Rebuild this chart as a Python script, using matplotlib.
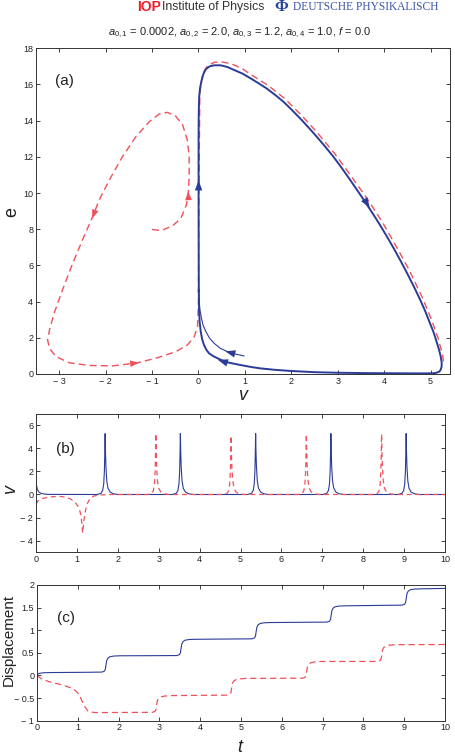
import matplotlib
matplotlib.use("Agg")
import matplotlib.pyplot as plt

plt.rcParams['font.family'] = ['Liberation Sans', 'DejaVu Sans']
plt.rcParams['mathtext.fontset'] = 'custom'
plt.rcParams['mathtext.rm'] = 'Liberation Sans'
plt.rcParams['mathtext.it'] = 'Liberation Sans:italic'

BLUE = '#2b3c98'
RED = '#f0505a'

# ---------------- panel (a): phase portrait (v, e) ----------------
blue_init_v = [0.98, 0.8, 0.63, 0.47, 0.34, 0.24, 0.16, 0.1, 0.065, 0.035, 0.015, 0.008]
blue_init_e = [1.0, 1.1, 1.23, 1.42, 1.69, 1.98, 2.34, 2.7, 3.08, 3.5, 4.0, 4.6]

blue_cycle_v = [0.008, 0.005, 0.003, 0.003, 0.006, 0.015, 0.035, 0.065, 0.11, 0.16, 0.24, 0.34,
                0.48, 0.62, 0.77, 0.95, 1.13, 1.3, 1.47, 1.65, 1.83, 2.01, 2.19, 2.37, 2.55,
                2.73, 2.91, 3.09, 3.27, 3.45, 3.63, 3.78, 3.92, 4.06, 4.2, 4.35, 4.49, 4.64,
                4.78, 4.89, 4.99, 5.07, 5.13, 5.18, 5.22, 5.24, 5.24, 5.22, 5.19, 5.13, 5.06,
                4.9, 4.6, 4.2, 3.6, 2.99, 2.5, 1.98, 1.65, 1.34, 1.15, 0.98, 0.8, 0.63,
                0.52, 0.41, 0.31, 0.23, 0.17, 0.12, 0.08, 0.05, 0.025, 0.012, 0.008]
blue_cycle_e = [4.6, 7.0, 10.0, 13.0, 14.3, 15.3, 15.8, 16.2, 16.6, 16.85, 17.0, 17.06,
                17.06, 16.97, 16.8, 16.6, 16.33, 16.06, 15.78, 15.43, 15.05, 14.6, 14.13, 13.63,
                13.11, 12.57, 12.0, 11.38, 10.72, 10.05, 9.36, 8.77, 8.2, 7.6, 6.98, 6.28,
                5.6, 4.84, 4.09, 3.45, 2.8, 2.28, 1.79, 1.38, 0.96, 0.66, 0.41, 0.24, 0.13,
                0.07, 0.04, 0.035, 0.035, 0.04, 0.05, 0.07, 0.1, 0.17, 0.23, 0.31, 0.38, 0.46,
                0.55, 0.64, 0.74, 0.87, 1.0, 1.14, 1.34, 1.6, 1.92, 2.34, 2.9, 3.63, 4.6]

red_v = [-1.0, -0.81, -0.56, -0.38, -0.26, -0.22, -0.2, -0.2, -0.24, -0.34, -0.49, -0.67,
         -0.85, -1.06, -1.35, -1.64, -1.92, -2.14, -2.28, -2.5, -2.71, -2.93, -3.11, -3.21,
         -3.25, -3.21, -3.07, -2.78, -2.35, -1.85, -1.35, -0.92, -0.49, -0.24, -0.09, -0.02,
         0.0, 0.01, 0.03, 0.09, 0.2, 0.34, 0.5, 0.7, 0.93, 1.16, 1.5, 1.86, 2.22, 2.58,
         2.94, 3.3, 3.66, 3.96, 4.24, 4.53, 4.82, 5.03, 5.17, 5.26, 5.29]
red_e = [7.99, 7.92, 8.18, 8.6, 9.34, 9.98, 10.9, 12.0, 12.93, 13.76, 14.25, 14.46,
         14.36, 13.94, 13.11, 12.0, 10.72, 9.61, 8.69, 7.4, 6.11, 4.64, 3.35, 2.43,
         1.88, 1.42, 0.96, 0.62, 0.47, 0.45, 0.6, 0.87, 1.23, 1.6, 2.06, 2.62,
         4.0, 10.0, 15.5, 16.6, 17.05, 17.22, 17.25, 17.15, 16.9, 16.5, 15.95, 15.22, 14.3, 13.28,
         12.17, 10.9, 9.6, 8.4, 7.15, 5.8, 4.25, 2.95, 1.93, 1.05, 0.5]

# arrows: (from_v, from_e, to_v, to_e)
blue_arrows = [(0.003, 10.1, 0.003, 10.7), (3.6, 9.55, 3.69, 9.2),
               (0.7, 1.17, 0.58, 1.25), (0.52, 0.7, 0.42, 0.78)]
red_arrows = [(-0.215, 9.6, -0.22, 10.1), (-2.23, 9.0, -2.29, 8.6),
              (-1.5, 0.56, -1.28, 0.62)]

# ---------------- panel (b): v(t) ----------------
blue_t = [0, 0.03, 0.06, 0.11, 0.18, 0.3,
          1.49, 1.59, 1.63, 1.655, 1.672, 1.683, 1.69, 1.698, 1.71, 1.73, 1.76, 1.81, 1.89, 2.01,
          3.33, 3.43, 3.47, 3.495, 3.512, 3.523, 3.53, 3.538, 3.55, 3.57, 3.60, 3.65, 3.73, 3.85,
          5.17, 5.27, 5.31, 5.335, 5.352, 5.363, 5.37, 5.378, 5.39, 5.41, 5.44, 5.49, 5.57, 5.69,
          7.01, 7.11, 7.15, 7.175, 7.192, 7.203, 7.21, 7.218, 7.23, 7.25, 7.28, 7.33, 7.41, 7.53,
          8.85, 8.95, 8.99, 9.015, 9.032, 9.043, 9.05, 9.058, 9.07, 9.09, 9.12, 9.17, 9.25, 9.37,
          10.0]
blue_vt = [1.07, 0.48, 0.25, 0.12, 0.05, 0.01,
           0.0, 0.1, 0.35, 0.9, 2.0, 3.8, 5.3, 3.8, 2.4, 1.2, 0.55, 0.22, 0.06, 0.0,
           0.0, 0.1, 0.35, 0.9, 2.0, 3.8, 5.3, 3.8, 2.4, 1.2, 0.55, 0.22, 0.06, 0.0,
           0.0, 0.1, 0.35, 0.9, 2.0, 3.8, 5.3, 3.8, 2.4, 1.2, 0.55, 0.22, 0.06, 0.0,
           0.0, 0.1, 0.35, 0.9, 2.0, 3.8, 5.3, 3.8, 2.4, 1.2, 0.55, 0.22, 0.06, 0.0,
           0.0, 0.1, 0.35, 0.9, 2.0, 3.8, 5.3, 3.8, 2.4, 1.2, 0.55, 0.22, 0.06, 0.0,
           0.0]

red_t = [0, 0.05, 0.12, 0.32, 0.5, 0.61, 0.75, 0.85, 0.95, 1.02, 1.07, 1.10, 1.125, 1.14,
         1.17, 1.21, 1.26, 1.32, 1.40, 1.55, 1.8,
         2.73, 2.83, 2.87, 2.895, 2.912, 2.923, 2.93, 2.938, 2.95, 2.97, 3.00, 3.05, 3.13, 3.25,
         4.57, 4.67, 4.71, 4.735, 4.752, 4.763, 4.77, 4.778, 4.79, 4.81, 4.84, 4.89, 4.97, 5.09,
         6.41, 6.51, 6.55, 6.575, 6.592, 6.603, 6.61, 6.618, 6.63, 6.65, 6.68, 6.73, 6.81, 6.93,
         8.25, 8.35, 8.39, 8.415, 8.432, 8.443, 8.45, 8.458, 8.47, 8.49, 8.52, 8.57, 8.65, 8.77,
         10.0]
red_vt = [-0.84, -0.55, -0.38, -0.22, -0.17, -0.17, -0.25, -0.40, -0.65, -0.99, -1.4, -1.87,
          -2.6, -3.35, -2.3, -1.4, -0.75, -0.35, -0.15, -0.04, 0.0,
          0.0, 0.1, 0.35, 0.9, 2.0, 3.8, 5.3, 3.8, 2.4, 1.2, 0.55, 0.22, 0.06, 0.0,
          0.0, 0.1, 0.35, 0.9, 1.9, 3.6, 5.1, 3.6, 2.3, 1.2, 0.55, 0.22, 0.06, 0.0,
          0.0, 0.1, 0.35, 0.9, 2.0, 3.8, 5.25, 3.8, 2.4, 1.2, 0.55, 0.22, 0.06, 0.0,
          0.0, 0.1, 0.35, 0.9, 2.0, 3.8, 5.25, 3.8, 2.4, 1.2, 0.55, 0.22, 0.06, 0.0,
          0.0]

# ---------------- panel (c): displacement ----------------
blue_td = [0, 0.05, 0.15, 0.4, 1.2,
           1.59, 1.65, 1.675, 1.69, 1.71, 1.74, 1.79, 1.89, 2.04,
           3.43, 3.49, 3.515, 3.53, 3.55, 3.58, 3.63, 3.73, 3.88,
           5.27, 5.33, 5.355, 5.37, 5.39, 5.42, 5.47, 5.57, 5.72,
           7.11, 7.17, 7.195, 7.21, 7.23, 7.26, 7.31, 7.41, 7.56,
           8.95, 9.01, 9.035, 9.05, 9.07, 9.10, 9.15, 9.25, 9.40, 10.0]
blue_disp = [0.02, 0.045, 0.06, 0.065, 0.07,
             0.075, 0.095, 0.135, 0.23, 0.335, 0.385, 0.415, 0.43, 0.435,
             0.44, 0.46, 0.50, 0.595, 0.70, 0.75, 0.78, 0.795, 0.80,
             0.81, 0.83, 0.87, 0.965, 1.07, 1.12, 1.15, 1.165, 1.17,
             1.18, 1.20, 1.24, 1.335, 1.44, 1.49, 1.52, 1.535, 1.54,
             1.555, 1.575, 1.615, 1.71, 1.815, 1.865, 1.895, 1.91, 1.915, 1.925]

red_td = [0, 0.1, 0.3, 0.63, 0.88, 0.97, 1.04, 1.1, 1.16, 1.24, 1.32, 1.45,
          2.83, 2.89, 2.915, 2.93, 2.95, 2.98, 3.03, 3.13, 3.28,
          4.67, 4.73, 4.755, 4.77, 4.79, 4.82, 4.87, 4.97, 5.12,
          6.51, 6.57, 6.595, 6.61, 6.63, 6.66, 6.71, 6.81, 6.96,
          8.35, 8.41, 8.435, 8.45, 8.47, 8.50, 8.55, 8.65, 8.80, 10.0]
red_disp = [0.0, -0.07, -0.14, -0.21, -0.29, -0.36, -0.43, -0.56, -0.67, -0.78, -0.81, -0.82,
            -0.815, -0.795, -0.755, -0.66, -0.555, -0.505, -0.475, -0.455, -0.445,
            -0.435, -0.415, -0.375, -0.28, -0.175, -0.125, -0.095, -0.075, -0.065,
            -0.06, -0.04, 0.0, 0.095, 0.20, 0.25, 0.28, 0.30, 0.31,
            0.31, 0.33, 0.37, 0.465, 0.57, 0.62, 0.65, 0.67, 0.68, 0.685]

W, H = 455, 756
fig = plt.figure(figsize=(W / 100, H / 100), dpi=100)


def ax_rect(l, r, t, b):
    return [l / W, 1 - b / H, (r - l) / W, (b - t) / H]


def style(ax):
    ax.tick_params(direction='in', top=True, right=True, length=3, width=0.6,
                   labelsize=6.5, colors='#222222', pad=2)
    for s in ax.spines.values():
        s.set_linewidth(0.7)
        s.set_color('#333333')


# (a)
ax1 = fig.add_axes(ax_rect(36, 450, 48.3, 374))
ax1.plot(red_v, red_e, color=RED, lw=1.0, ls=(0, (5, 3)))
ax1.plot(blue_init_v, blue_init_e, color=BLUE, lw=0.8)
ax1.plot(blue_cycle_v, blue_cycle_e, color=BLUE, lw=1.4, solid_joinstyle='round')
for (x0, y0, x1, y1) in blue_arrows:
    ax1.annotate('', xy=(x1, y1), xytext=(x0, y0),
                 arrowprops=dict(arrowstyle='-|>,head_length=0.8,head_width=0.3',
                                 color=BLUE, lw=0, mutation_scale=9,
                                 shrinkA=0, shrinkB=0))
for (x0, y0, x1, y1) in red_arrows:
    ax1.annotate('', xy=(x1, y1), xytext=(x0, y0),
                 arrowprops=dict(arrowstyle='-|>,head_length=0.8,head_width=0.3',
                                 color=RED, lw=0, mutation_scale=8,
                                 shrinkA=0, shrinkB=0))
ax1.set_xlim(-3.5, 5.42)
ax1.set_ylim(0, 18)
ax1.set_xticks(range(-3, 6))
ax1.set_xticklabels(['\u2212 3', '\u2212 2', '\u2212 1', '0', '1', '2', '3', '4', '5'])
ax1.set_yticks(range(0, 19, 2))
style(ax1)
ax1.text(-2.88, 16.2, '(a)', fontsize=11, ha='center', va='center', color='#222222')
fig.text(12 / W, 1 - 212 / H, 'e', fontsize=13, rotation=90, ha='center', va='center',
         color='#222222')
fig.text(243 / W, 1 - 396 / H, 'v', fontsize=13, style='italic', ha='center', va='center',
         color='#222222')

# (b)
ax2 = fig.add_axes(ax_rect(36, 445, 414, 552))
ax2.plot(blue_t, blue_vt, color=BLUE, lw=0.8)
ax2.plot(red_t, red_vt, color=RED, lw=0.9, ls=(0, (4, 3)))
ax2.set_xlim(0, 10)
ax2.set_ylim(-5, 7)
ax2.set_xticks(range(0, 11))
ax2.set_yticks([-4, -2, 0, 2, 4, 6])
ax2.set_yticklabels(['\u2212 4', '\u2212 2', '0', '2', '4', '6'])
style(ax2)
ax2.text(0.72, 3.95, '(b)', fontsize=11, ha='center', va='center', color='#222222')
fig.text(11 / W, 1 - 490 / H, 'v', fontsize=13, style='italic', rotation=90,
         ha='center', va='center', color='#222222')

# (c)
ax3 = fig.add_axes(ax_rect(37, 445, 585, 720.7))
ax3.plot(blue_td, blue_disp, color=BLUE, lw=0.8)
ax3.plot(red_td, red_disp, color=RED, lw=0.9, ls=(0, (5, 3)))
ax3.set_xlim(0, 10)
ax3.set_ylim(-1, 2)
ax3.set_xticks(range(0, 11))
ax3.set_yticks([-1, -0.5, 0, 0.5, 1, 1.5, 2])
ax3.set_yticklabels(['\u2212 1', '\u2212 0.5', '0', '0.5', '1', '1.5', '2'])
style(ax3)
ax3.text(0.72, 1.27, '(c)', fontsize=11, ha='center', va='center', color='#222222')
fig.text(9 / W, 1 - 640 / H, 'Displacement', fontsize=11, rotation=90,
         ha='center', va='center', color='#222222')
fig.text(240 / W, 1 - 747 / H, 't', fontsize=13, style='italic', ha='center', va='center',
         color='#222222')

# title and header
fig.text(240 / W, 1 - 33 / H,
         r'$a_{0,1}$ = 0.0002, $a_{0,2}$ = 2.0, $a_{0,3}$ = 1.2, $a_{0,4}$ = 1.0, $f$ = 0.0',
         fontsize=8, ha='center', va='center', color='#222222')
fig.text(137 / W, 1 - 7 / H, 'IOP', fontsize=10, fontweight='bold', color='#e8202a',
         ha='left', va='center')
fig.text(162 / W, 1 - 7 / H, 'Institute of Physics', fontsize=8.8,
         color='#333333', ha='left', va='center')
fig.text(274 / W, 1 - 7 / H, '\u03a6', family=['Liberation Serif', 'DejaVu Serif'],
         fontsize=12, fontweight='bold', color='#2a48a0', ha='left', va='center')
fig.text(293 / W, 1 - 7.5 / H, 'DEUTSCHE PHYSIKALISCH', family=['Liberation Serif', 'DejaVu Serif'],
         fontsize=8.3, color='#3a55aa', ha='left', va='center')

fig.savefig('out.png', dpi=100)
